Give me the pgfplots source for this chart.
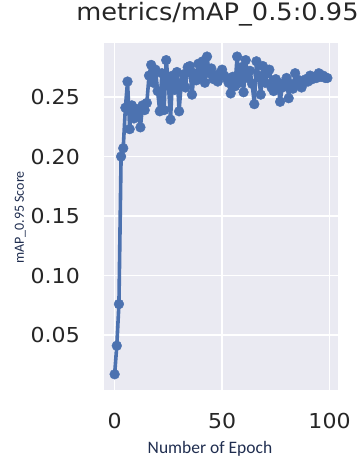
\documentclass[border=0pt]{standalone}
\usepackage{fontspec}
\usepackage{pgfplots}
\pgfplotsset{compat=1.18}
\setmainfont{DejaVu Sans}
\newfontfamily\plotfont[FakeStretch=1.07]{DejaVu Sans}
\newfontfamily\labelfont{Carlito}
\definecolor{sbblue}{RGB}{76,114,176}
\definecolor{sbbg}{RGB}{234,234,242}
\definecolor{txt}{RGB}{38,38,38}
\definecolor{lab}{RGB}{32,46,80}

\pgfplotstableread{
epoch map
0 0.017
1 0.041
2 0.076
3 0.200
4 0.207
5 0.241
6 0.263
7 0.223
8 0.243
9 0.232
10 0.240
11 0.236
12 0.2245
13 0.243
14 0.239
15 0.245
16 0.268
17 0.277
18 0.262
19 0.273
20 0.255
21 0.238
22 0.270
23 0.239
24 0.281
25 0.262
26 0.231
27 0.268
28 0.256
29 0.271
30 0.238
31 0.262
32 0.269
33 0.258
34 0.275
35 0.276
36 0.252
37 0.270
38 0.264
39 0.278
40 0.266
41 0.280
42 0.262
43 0.284
44 0.270
45 0.274
46 0.265
47 0.268
48 0.263
49 0.270
50 0.273
51 0.268
52 0.266
53 0.262
54 0.253
55 0.267
56 0.259
57 0.284
58 0.262
59 0.275
60 0.254
61 0.281
62 0.266
63 0.272
64 0.261
65 0.244
66 0.280
67 0.268
68 0.252
69 0.276
70 0.262
71 0.270
72 0.273
73 0.258
74 0.255
75 0.265
76 0.262
77 0.246
78 0.258
79 0.262
80 0.266
81 0.249
82 0.261
83 0.257
84 0.270
85 0.262
86 0.264
87 0.258
88 0.262
89 0.265
90 0.263
91 0.268
92 0.265
93 0.267
94 0.266
95 0.270
96 0.267
97 0.268
98 0.266
99 0.266
}\mapdata

\begin{document}
\begin{tikzpicture}[x=1bp,y=1bp]
\begin{axis}[
  at={(0,0)}, anchor=south west,
  scale only axis, width=234bp, height=347bp,
  xmin=-4.95, xmax=103.95, ymin=0.0038, ymax=0.2954,
  axis background/.style={fill=sbbg},
  axis line style={draw=none},
  major tick length=0pt,
  grid=major, major grid style={white, line width=1.6bp},
  xtick={0,50,100}, ytick={0.05,0.10,0.15,0.20,0.25},
  /pgf/number format/assume math mode=true,
  tick label style={font=\plotfont\fontsize{20.6bp}{24bp}\selectfont, text=txt, inner sep=0pt},
  xticklabel style={anchor=north, yshift=-23bp},
  yticklabel style={anchor=east, xshift=-24bp,
    /pgf/number format/fixed, /pgf/number format/fixed zerofill,
    /pgf/number format/precision=2},
  title={metrics/mAP\_0.5:0.95},
  title style={at={(axis description cs:0.485,1.049)}, anchor=base,
    font=\plotfont\fontsize{24bp}{28bp}\selectfont, text=txt, inner sep=0pt},
  xlabel={Number of Epoch},
  xlabel style={at={(axis description cs:0.453,-0.183)}, anchor=base,
    font=\labelfont\fontsize{17.5bp}{20bp}\selectfont, text=lab, inner sep=0pt},
  ylabel={mAP\_0.95 Score},
  ylabel style={at={(axis description cs:-0.3419,0.497)}, anchor=base,
    font=\labelfont\fontsize{14bp}{17bp}\selectfont, text=lab, inner sep=0pt},
]
% training curve: line with filled round markers
\addplot[sbblue, line width=3.6bp, line join=round, line cap=round,
  mark=*, mark size=4.9bp,
  mark options={fill=sbblue, draw=sbblue, line width=0.4bp}]
  table[x=epoch, y=map] {\mapdata};
\end{axis}
\pgfresetboundingbox
\useasboundingbox (-104,-69) rectangle (258,390);
\end{tikzpicture}
\end{document}
